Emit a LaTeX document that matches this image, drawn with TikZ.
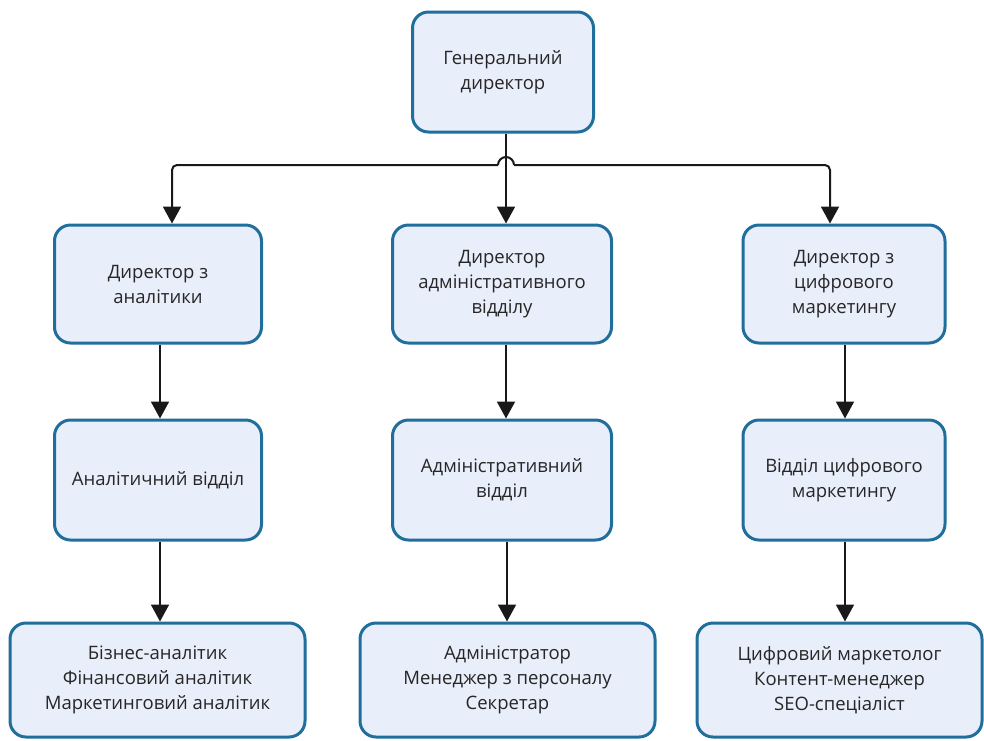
\documentclass[tikz,border=0pt]{standalone}
\usepackage{fontspec}
\setmainfont{Open Sans}
\usetikzlibrary{arrows.meta}
\definecolor{boxfill}{HTML}{E9EEFB}
\definecolor{boxline}{HTML}{1F6E9C}
\definecolor{txt}{HTML}{262626}
\tikzset{
  orgbox/.style={draw=boxline, line width=3pt, fill=boxfill, rounded corners=16pt,
    align=center, text=txt, font=\fontsize{18.5}{25}\selectfont, inner sep=0pt},
  link/.style={line width=2pt, draw=black!90},
  arr/.style={link, -{Triangle[length=17pt,width=18pt]}},
}
\begin{document}
\begin{tikzpicture}[x=1pt,y=-1pt]
\useasboundingbox (0,0) rectangle (984,740);

% director
\node[orgbox, minimum width=181pt, minimum height=120pt] (top) at (503,72) {Генеральний\\директор};

% second row: heads of departments
\node[orgbox, minimum width=207pt, minimum height=118pt] (a1) at (158,284) {Директор з\\аналітики};
\node[orgbox, minimum width=219pt, minimum height=118pt] (a2) at (502,284) {Директор\\адміністративного\\відділу};
\node[orgbox, minimum width=202pt, minimum height=118pt] (a3) at (844,284) {Директор з\\цифрового\\маркетингу};

% third row: departments
\node[orgbox, minimum width=207pt, minimum height=120pt] (b1) at (158,480) {Аналітичний відділ};
\node[orgbox, minimum width=219pt, minimum height=120pt] (b2) at (502,480) {Адміністративний\\відділ};
\node[orgbox, minimum width=202pt, minimum height=120pt] (b3) at (844,480) {Відділ цифрового\\маркетингу};

% fourth row: staff
\node[orgbox, minimum width=295pt, minimum height=114pt] (c1) at (157.5,680) {Бізнес-аналітик\\Фінансовий аналітик\\Маркетинговий аналітик};
\node[orgbox, minimum width=295pt, minimum height=114pt] (c2) at (507.5,680) {Адміністратор\\Менеджер з персоналу\\Секретар};
\node[orgbox, minimum width=285pt, minimum height=114pt] (c3) at (839.5,680) {Цифровий маркетолог\\Контент-менеджер\\SEO-спеціаліст};

% bus from the director, with a hop over the vertical line
\coordinate (bus) at ([xshift=3pt]top.south |- 0,165);
\coordinate (hopL) at ([xshift=-8pt]bus);
\coordinate (hopR) at ([xshift=8pt]bus);
\draw[arr] ([xshift=3pt]top.south) -- ([xshift=3pt]top.south |- a2.north);
\draw[arr, rounded corners=5pt] (hopL) -| ([xshift=14pt]a1.north);
\draw[arr, rounded corners=5pt] (hopR) -| ([xshift=-14pt]a3.north);
\draw[link] (hopL) arc[start angle=180, end angle=0, radius=8pt];

% department heads to departments
\draw[arr] ([xshift=2pt]a1.south) -- ([xshift=2pt]a1.south |- b1.north);
\draw[arr] ([xshift=4pt]a2.south) -- ([xshift=4pt]a2.south |- b2.north);
\draw[arr] ([xshift=1pt]a3.south) -- ([xshift=1pt]a3.south |- b3.north);

% departments to staff
\draw[arr] ([xshift=2pt]b1.south) -- ([xshift=2pt]b1.south |- c1.north);
\draw[arr] ([xshift=5pt]b2.south) -- ([xshift=5pt]b2.south |- c2.north);
\draw[arr] ([xshift=1pt]b3.south) -- ([xshift=1pt]b3.south |- c3.north);
\end{tikzpicture}
\end{document}
